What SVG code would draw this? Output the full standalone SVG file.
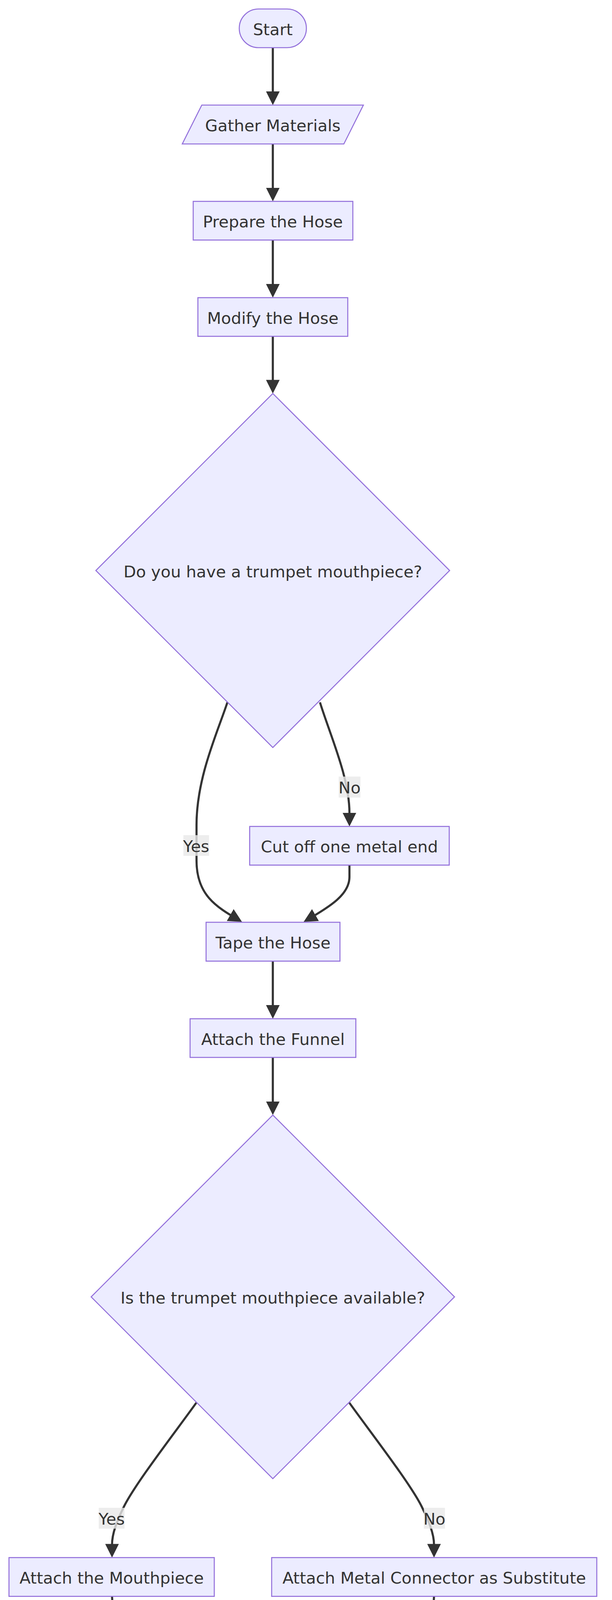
<svg xmlns="http://www.w3.org/2000/svg" width="1568" height="5398" viewBox="0 0 1568 5398">
<defs>
<style>
.n{fill:#ECECFF;stroke:#9370DB;stroke-width:2.6}
.t{font-family:"DejaVu Sans",Verdana,sans-serif;font-size:41.6px;fill:#333;text-anchor:middle}
.e{fill:none;stroke:#333;stroke-width:5.4;marker-end:url(#ah)}
.lb{fill:#e8e8e8;fill-opacity:0.8}
</style>
<marker id="ah" viewBox="0 0 10 10" refX="7.7" refY="5" markerUnits="userSpaceOnUse" markerWidth="35" markerHeight="35" orient="auto">
<path d="M0,0 L10,5 L0,10 z" fill="#333"/>
</marker>
</defs>
<rect width="1568" height="5398" fill="#fff"/>
<g id="edges">
<path class="e" d="M699,122 L699,261"/>
<path class="e" d="M699,368.5 L699,507.5"/>
<path class="e" d="M699,614.5 L699,754"/>
<path class="e" d="M699,861 L699,999.4"/>
<path class="e" d="M582.6,1798 C557.6,1874 503.5,1990 503.5,2112 L503.5,2203 C503.5,2290 552.5,2321 613.1,2356"/>
<path class="e" d="M819.8,1798 C845,1880 895.3,1990 895.3,2081 L895.3,2107.7"/>
<path class="e" d="M895.3,2214.7 L895.3,2245 C895.3,2290 845.5,2321 784.9,2356"/>
<path class="e" d="M699,2460.5 L699,2600"/>
<path class="e" d="M699,2707 L699,2846.5"/>
<path class="e" d="M503,3591 C450,3665 345,3800 317,3858 C300,3893 287,3925 287,3955 L287,3979.4"/>
<path class="e" d="M895,3591 C948,3665 1053,3800 1081,3858 C1098,3893 1112,3925 1112,3955 L1112,3979.4"/>
<path class="e" d="M287,4086.7 C287,4180 410,4181 525.3,4229.6"/>
<path class="e" d="M1112,4086.7 C1112,4180 989,4181 873.7,4229.6"/>
<path class="e" d="M699,4333 L699,4471.7"/>
<path class="e" d="M699,4579.8 L699,4719"/>
<path class="e" d="M699,4826 L699,4964.7"/>
<path class="e" d="M699,5072 L699,5212"/>
</g>
<g id="edge-labels">
<rect class="lb" x="469.8" y="2138" width="65.8" height="53"/>
<text class="t" x="502.7" y="2180.5">Yes</text>
<rect class="lb" x="867.8" y="1988" width="55.6" height="53.7"/>
<text class="t" x="895.6" y="2031">No</text>
<rect class="lb" x="253" y="3860" width="66" height="53.4"/>
<text class="t" x="286" y="3903">Yes</text>
<rect class="lb" x="1086" y="3860" width="54" height="53.4"/>
<text class="t" x="1113" y="3903">No</text>
</g>
<g id="start"><rect class="n" x="613" y="23" width="172" height="99" rx="49.5" ry="49.5"/><text class="t" x="699" y="89.5">Start</text></g>
<g id="gather"><polygon class="n" points="517,269 931,269 881,368.5 467,368.5"/><text class="t" x="699" y="336">Gather Materials</text></g>
<g id="prepare"><rect class="n" x="495" y="515.5" width="409" height="99"/><text class="t" x="699" y="582">Prepare the Hose</text></g>
<g id="modify"><rect class="n" x="507" y="762" width="384" height="99"/><text class="t" x="699" y="828.5">Modify the Hose</text></g>
<g id="decision1"><polygon class="n" points="699,1007.4 1152,1460.5 699,1913.6 245.6,1460.5"/><text class="t" x="699" y="1478">Do you have a trumpet mouthpiece?</text></g>
<g id="cutoff"><rect class="n" x="639.7" y="2115.7" width="511.3" height="99"/><text class="t" x="895.3" y="2182">Cut off one metal end</text></g>
<g id="tape"><rect class="n" x="528" y="2361" width="343" height="99.5"/><text class="t" x="699.5" y="2428">Tape the Hose</text></g>
<g id="funnel"><rect class="n" x="487" y="2608" width="424.7" height="99"/><text class="t" x="699.4" y="2674.5">Attach the Funnel</text></g>
<g id="decision2"><polygon class="n" points="699,2854.5 1164.5,3320 699,3785.5 233.5,3320"/><text class="t" x="699" y="3337">Is the trumpet mouthpiece available?</text></g>
<g id="mouthpiece"><rect class="n" x="23" y="3987.4" width="526" height="99.3"/><text class="t" x="286" y="4054">Attach the Mouthpiece</text></g>
<g id="metal"><rect class="n" x="696" y="3987.4" width="833" height="99.3"/><text class="t" x="1112.5" y="4054">Attach Metal Connector as Substitute</text></g>
<g id="secure"><polygon class="n" points="317,4233 1130,4233 1082,4333 268,4333"/><text class="t" x="699" y="4300">Secure the Mouthpiece if Necessary</text></g>
<g id="homemade"><polygon class="n" points="362.6,4479.7 1085.2,4479.7 1035.5,4579.8 313.5,4579.8"/><text class="t" x="699.4" y="4547">Homemade Trumpet Assembled</text></g>
<g id="play"><rect class="n" x="495.3" y="4727" width="407.5" height="99"/><text class="t" x="699" y="4793.5">Play the Trumpet</text></g>
<g id="playnotes"><polygon class="n" points="265.7,4972.7 1182.1,4972.7 1132.4,5072.2 216.6,5072.2"/><text class="t" x="699.4" y="5039.5">Play Notes with the Homemade Trumpet</text></g>
<g id="end"><rect class="n" x="626" y="5220" width="146" height="99" rx="49.5" ry="49.5"/><text class="t" x="699" y="5286.5">End</text></g>
</svg>
